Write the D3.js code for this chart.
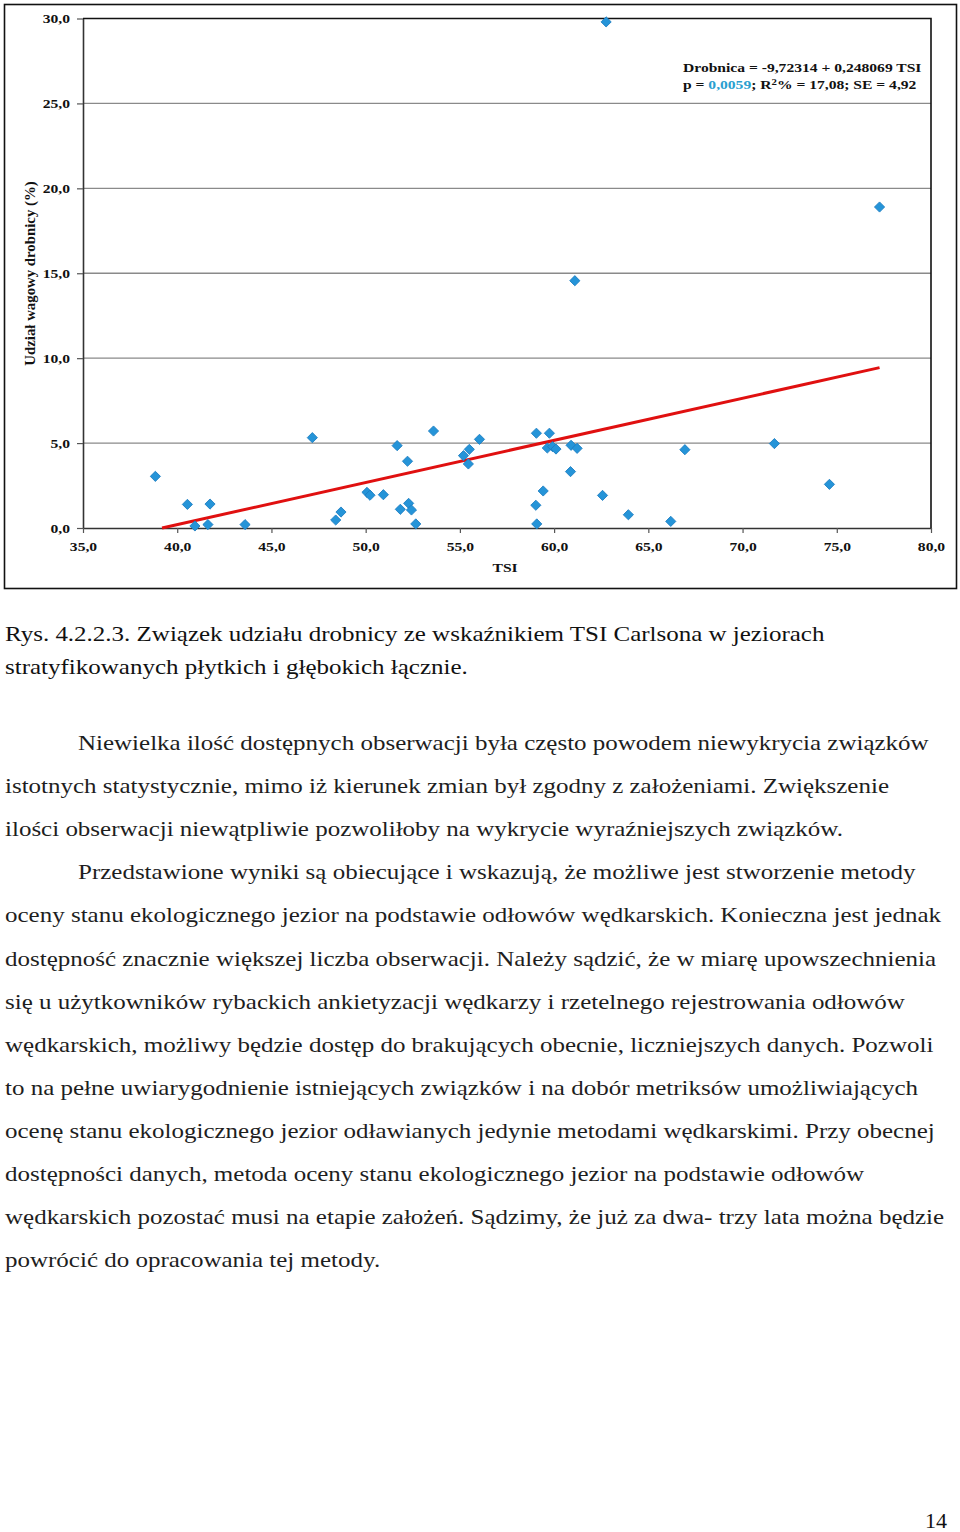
<!DOCTYPE html>
<html>
<head>
<meta charset="utf-8">
<script src="https://cdn.jsdelivr.net/npm/d3@7"></script>
<style>
  html, body { margin: 0; padding: 0; background: #fff; }
  svg { display: block; }
</style>
</head>
<body>
<svg id="page" width="960" height="1532"></svg>
<script>
// ---- data ----
const tsi = [38.84, 40.54, 40.94, 41.63, 41.74, 43.60, 47.17, 48.41, 48.69, 50.07,
             50.23, 50.94, 51.67, 51.84, 52.22, 52.28, 52.43, 52.66, 53.60, 55.19,
             55.45, 55.50, 56.04, 59.03, 59.08, 59.06, 59.42, 59.64, 59.75, 59.92,
             60.10, 60.87, 60.90, 61.10, 61.22, 62.57, 62.76, 63.94, 66.19, 66.94,
             71.69, 74.61, 77.27];
const drobnica = [3.04, 1.39, 0.12, 0.20, 1.41, 0.20, 5.32, 0.47, 0.94, 2.10,
                  1.93, 1.96, 4.85, 1.10, 3.93, 1.45, 1.06, 0.24, 5.71, 4.26,
                  3.77, 4.63, 5.22, 1.34, 0.24, 5.58, 2.18, 4.71, 5.58, 4.79,
                  4.65, 3.32, 4.87, 14.56, 4.69, 1.92, 29.80, 0.78, 0.39, 4.61,
                  4.97, 2.57, 18.90];
const intercept = -9.72314;
const slope = 0.248069;
const xTicks = [35, 40, 45, 50, 55, 60, 65, 70, 75, 80];
const yTicks = [0, 5, 10, 15, 20, 25, 30];
const xTitle = "TSI";
const yTitle = "Udział wagowy  drobnicy (%)";
const eqLine1 = "Drobnica = -9,72314 + 0,248069 TSI";
const captionLines = [
  "Rys. 4.2.2.3. Związek udziału drobnicy ze wskaźnikiem TSI Carlsona w jeziorach",
  "stratyfikowanych płytkich i głębokich łącznie."
];
const bodyLines = [
  {t: "Niewielka ilość dostępnych obserwacji była często powodem niewykrycia związków", indent: true},
  {t: "istotnych statystycznie, mimo iż kierunek zmian był zgodny z założeniami. Zwiększenie", indent: false},
  {t: "ilości obserwacji niewątpliwie pozwoliłoby na wykrycie wyraźniejszych związków.", indent: false},
  {t: "Przedstawione wyniki są obiecujące i wskazują, że możliwe jest stworzenie metody", indent: true},
  {t: "oceny stanu ekologicznego jezior na podstawie odłowów wędkarskich. Konieczna jest jednak", indent: false},
  {t: "dostępność znacznie większej liczba obserwacji. Należy sądzić, że w miarę upowszechnienia", indent: false},
  {t: "się u użytkowników rybackich ankietyzacji wędkarzy i rzetelnego rejestrowania odłowów", indent: false},
  {t: "wędkarskich, możliwy będzie dostęp do brakujących obecnie, liczniejszych danych. Pozwoli", indent: false},
  {t: "to na pełne uwiarygodnienie istniejących związków i na dobór metriksów umożliwiających", indent: false},
  {t: "ocenę stanu ekologicznego jezior odławianych jedynie metodami wędkarskimi. Przy obecnej", indent: false},
  {t: "dostępności danych, metoda oceny stanu ekologicznego jezior na podstawie odłowów", indent: false},
  {t: "wędkarskich pozostać musi na etapie założeń. Sądzimy, że już za dwa- trzy lata można będzie", indent: false},
  {t: "powrócić do opracowania tej metody.", indent: false}
];
const pageNumber = "14";

// ---- layout ----
const svg = d3.select("#page");
const serif = "'Liberation Serif', 'Times New Roman', serif";
const plot = {left: 83, right: 931, top: 18.5, bottom: 528};
const chartStretch = 1.2;   // horizontal stretch of chart glyphs
const textStretch = 1.19;   // horizontal stretch of page text glyphs

const x = d3.scaleLinear().domain([35, 80]).range([plot.left, plot.right]);
const y = d3.scaleLinear().domain([0, 30]).range([plot.bottom, plot.top]);
const fmt = v => d3.format(".1f")(v).replace(".", ",");

// outer frame
svg.append("rect")
  .attr("x", 4.5).attr("y", 4.5).attr("width", 952).attr("height", 584)
  .attr("fill", "#fff").attr("stroke", "#111").attr("stroke-width", 1.6);

// gridlines
svg.append("g").selectAll("line")
  .data(yTicks.filter(v => v > 0 && v < 30))
  .join("line")
  .attr("x1", plot.left).attr("x2", plot.right)
  .attr("y1", d => y(d)).attr("y2", d => y(d))
  .attr("stroke", "#8a8a8a").attr("stroke-width", 1.3);

// plot border top & right
svg.append("path")
  .attr("d", `M${plot.left},${y(30)}H${plot.right}V${plot.bottom}`)
  .attr("fill", "none").attr("stroke", "#111").attr("stroke-width", 1.6);

// axes
const yAxis = svg.append("g")
  .attr("transform", `translate(${plot.left},0)`)
  .call(d3.axisLeft(y).tickValues(yTicks).tickFormat(fmt).tickSize(6).tickPadding(7).tickSizeOuter(0));
const xAxis = svg.append("g")
  .attr("transform", `translate(0,${plot.bottom})`)
  .call(d3.axisBottom(x).tickValues(xTicks).tickFormat(fmt).tickSize(5).tickPadding(9).tickSizeOuter(0));
[yAxis, xAxis].forEach(g => {
  g.select(".domain").attr("stroke", "#333").attr("stroke-width", 1.6);
  g.selectAll(".tick line").attr("stroke", "#555").attr("stroke-width", 1.2);
  g.selectAll(".tick text")
    .attr("fill", "#111")
    .style("font-family", serif).style("font-weight", "bold").style("font-size", "13px");
});
yAxis.selectAll(".tick text").each(function() {
  const t = d3.select(this);
  const tx = +t.attr("x");
  t.attr("x", 0).attr("transform", `translate(${tx},0) scale(${chartStretch},1)`);
});
xAxis.selectAll(".tick text").attr("transform", `scale(${chartStretch},1)`);

// axis titles
svg.append("text")
  .attr("transform", `translate(${x(57.4)},572) scale(${chartStretch},1)`)
  .attr("text-anchor", "middle")
  .style("font-family", serif).style("font-weight", "bold").style("font-size", "13px")
  .attr("fill", "#111").text(xTitle);
svg.append("text")
  .attr("transform", `translate(35,${273.5}) rotate(-90)`)
  .attr("text-anchor", "middle")
  .style("font-family", serif).style("font-weight", "bold").style("font-size", "14.8px")
  .attr("fill", "#111").text(yTitle);

// regression line clipped at y >= 0
const xMin = Math.max(d3.min(tsi), -intercept / slope);
const xMax = d3.max(tsi);
svg.append("line")
  .attr("x1", x(xMin)).attr("y1", y(intercept + slope * xMin))
  .attr("x2", x(xMax)).attr("y2", y(intercept + slope * xMax))
  .attr("stroke", "#e01010").attr("stroke-width", 3).attr("stroke-linecap", "butt");

// points
const pts = tsi.map((v, i) => ({x: v, y: drobnica[i]}));
const diamond = d3.symbol().type(d3.symbolSquare).size(52);
svg.append("g").selectAll("path")
  .data(pts)
  .join("path")
  .attr("d", diamond)
  .attr("transform", d => `translate(${x(d.x)},${y(d.y)}) rotate(45)`)
  .attr("fill", "#2594d8").attr("stroke", "#1b7cc0").attr("stroke-width", 0.8);

// equation
const eq = svg.append("g")
  .attr("transform", `translate(683,0) scale(${chartStretch},1)`)
  .style("font-family", serif).style("font-weight", "bold").style("font-size", "13px")
  .attr("fill", "#111");
eq.append("text").attr("x", 0).attr("y", 72).text(eqLine1);
const l2 = eq.append("text").attr("x", 0).attr("y", 89);
l2.append("tspan").text("p = ");
l2.append("tspan").attr("fill", "#2a9fd0").text("0,0059");
l2.append("tspan").text("; R");
l2.append("tspan").attr("dy", -4).style("font-size", "9px").text("2");
l2.append("tspan").attr("dy", 4).text("% = 17,08; SE = 4,92");

// caption
const cap = svg.append("g")
  .style("font-family", serif).style("font-size", "21px").attr("fill", "#111");
cap.selectAll("text").data(captionLines).join("text")
  .attr("transform", (d, i) => `translate(5,${641 + i * 33}) scale(${textStretch},1)`)
  .text(d => d);

// body
const body = svg.append("g")
  .style("font-family", serif).style("font-size", "21px").attr("fill", "#1e1e1e");
body.selectAll("text").data(bodyLines).join("text")
  .attr("transform", (d, i) => `translate(${d.indent ? 78 : 5},${750 + i * 43.1}) scale(${textStretch},1)`)
  .text(d => d.t);

svg.append("text")
  .attr("transform", `translate(947,1528) scale(1.05,1)`).attr("text-anchor", "end")
  .style("font-family", serif).style("font-size", "21px").attr("fill", "#111")
  .text(pageNumber);
</script>
</body>
</html>
